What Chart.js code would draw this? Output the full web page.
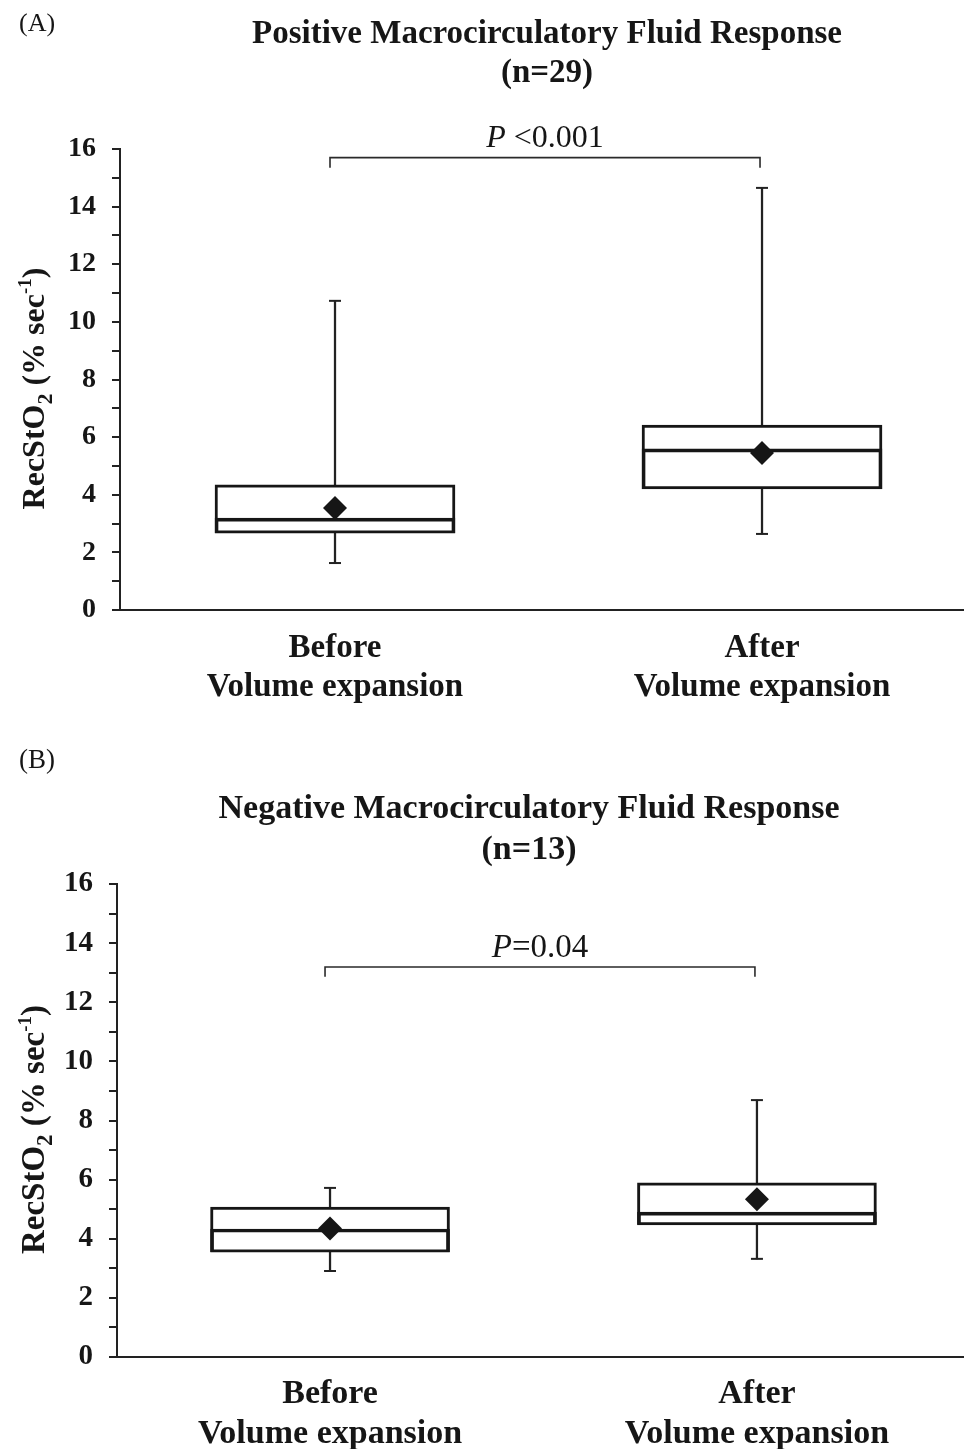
<!DOCTYPE html>
<html>
<head>
<meta charset="utf-8">
<script src="https://cdn.jsdelivr.net/npm/chart.js@4.4.1/dist/chart.umd.min.js"></script>
<style>
  html, body { margin: 0; padding: 0; background: #fff; overflow: hidden; }
  #wrap { position: relative; width: 964px; height: 1449px; }
  canvas { position: absolute; left: 0; }
  #chartA { top: 0; }
  #chartB { top: 720px; }
</style>
</head>
<body>
<div id="wrap">
  <canvas id="chartA" width="964" height="720"></canvas>
  <canvas id="chartB" width="964" height="729"></canvas>
</div>
<script>
// categories and tick labels
const categories = [['Before', 'Volume expansion'], ['After', 'Volume expansion']];
const yTickLabels = [0, 2, 4, 6, 8, 10, 12, 14, 16];

// (A) positive response, n=29
const titleA = ['Positive Macrocirculatory Fluid Response', '(n=29)'];
const minA    = [1.63, 2.64];
const q1A     = [2.67, 4.20];
const medianA = [3.19, 5.59];
const q3A     = [4.34, 6.42];
const maxA    = [10.73, 14.65];
const meanA   = [3.54, 5.45];
const pTextA  = ['P', ' <0.001'];

// (B) negative response, n=13
const titleB = ['Negative Macrocirculatory Fluid Response', '(n=13)'];
const minB    = [2.91, 3.32];
const q1B     = [3.55, 4.47];
const medianB = [4.33, 4.90];
const q3B     = [5.07, 5.89];
const maxB    = [5.72, 8.69];
const meanB   = [4.35, 5.34];
const pTextB  = ['P', '=0.04'];

const SERIF = '"Liberation Serif", "Times New Roman", serif';
const INK = '#161616';

// layout of each panel (pixels inside its own canvas)
const panelA = {
  id: 'chartA', letter: '(A)', letterY: 31, k: 1,
  title: titleA, titleX: 547, titleY: [43, 82],
  top: 149, bottom: 610, height: 720, axisLeft: 120,
  xMin: 0.4965, xMax: 2.473, boxWidth: 240, labelPad: 19,
  bracket: [15.7, 15.35], pText: pTextA, pGap: 11,
  min: minA, q1: q1A, median: medianA, q3: q3A, max: maxA, mean: meanA
};
const panelB = {
  id: 'chartB', letter: '(B)', letterY: 48, k: 1.025,
  title: titleB, titleX: 529, titleY: [98, 139],
  top: 164, bottom: 637, height: 729, axisLeft: 117,
  xMin: 0.501, xMax: 2.485, boxWidth: 239, labelPad: 17,
  bracket: [13.19, 12.86], pText: pTextB, pGap: 10,
  min: minB, q1: q1B, median: medianB, q3: q3B, max: maxB, mean: meanB
};

// texts that are not part of the axes: panel letter, title, p value bracket, y title
function annotations(p) {
  const fs = n => Math.round(n * p.k) + 'px ';
  return {
    id: 'annot' + p.id,
    afterDraw(chart) {
      const ctx = chart.ctx;
      const xs = chart.scales.x, ys = chart.scales.y;
      ctx.save();
      ctx.fillStyle = INK;
      ctx.textBaseline = 'alphabetic';

      ctx.font = fs(26) + SERIF;
      ctx.textAlign = 'left';
      ctx.fillText(p.letter, 19, p.letterY);

      ctx.font = 'bold ' + fs(33) + SERIF;
      ctx.textAlign = 'center';
      p.title.forEach((t, i) => ctx.fillText(t, p.titleX, p.titleY[i]));

      // bracket between the two groups
      const x1 = xs.getPixelForValue(1) - 5, x2 = xs.getPixelForValue(2) - 2;
      const yl = ys.getPixelForValue(p.bracket[0]);
      const yd = ys.getPixelForValue(p.bracket[1]);
      ctx.strokeStyle = '#2a2a2a';
      ctx.lineWidth = 1.6;
      ctx.beginPath();
      ctx.moveTo(x1, yd); ctx.lineTo(x1, yl); ctx.lineTo(x2, yl); ctx.lineTo(x2, yd);
      ctx.stroke();

      // P value, italic P
      const fItal = 'italic ' + fs(32) + SERIF, fReg = fs(32) + SERIF;
      ctx.font = fItal; const w1 = ctx.measureText(p.pText[0]).width;
      ctx.font = fReg;  const w2 = ctx.measureText(p.pText[1]).width;
      let px = (x1 + x2) / 2 - (w1 + w2) / 2;
      ctx.textAlign = 'left';
      ctx.font = fItal; ctx.fillText(p.pText[0], px, yl - p.pGap);
      ctx.font = fReg;  ctx.fillText(p.pText[1], px + w1, yl - p.pGap);

      // y axis title with sub/superscript
      const parts = [
        ['RecStO', 'bold ' + fs(32), 0],
        ['2', 'bold ' + fs(22), 8],
        [' (% sec', 'bold ' + fs(32), 0],
        ['-1', 'bold ' + fs(19), -13],
        [')', 'bold ' + fs(32), 0]
      ];
      let total = 0;
      parts.forEach(s => { ctx.font = s[1] + SERIF; total += ctx.measureText(s[0]).width; });
      ctx.translate(33, (chart.chartArea.top + chart.chartArea.bottom) / 2 + 9);
      ctx.rotate(-Math.PI / 2);
      let tx = -total / 2;
      parts.forEach(s => {
        ctx.font = s[1] + SERIF;
        ctx.fillText(s[0], tx, 11 + s[2]);
        tx += ctx.measureText(s[0]).width;
      });
      ctx.restore();
    }
  };
}

function drawPanel(p) {
  const pts = arr => arr.map((v, i) => ({ x: i + 1, y: v }));
  const ranges = (lo, hi) => lo.map((v, i) => ({ x: i + 1, y: [v, hi[i]] }));

  new Chart(document.getElementById(p.id), {
    type: 'bar',
    data: {
      datasets: [
        { // means
          type: 'line', data: pts(p.mean), showLine: false,
          pointStyle: 'rectRot', pointRadius: 12, pointHoverRadius: 12,
          pointBackgroundColor: INK, pointBorderWidth: 0
        },
        { // median line = top edge of q1..median bar
          data: ranges(p.q1, p.median), grouped: false, barThickness: p.boxWidth,
          backgroundColor: 'rgba(255,255,255,0)', borderColor: INK,
          borderWidth: 3, borderSkipped: 'bottom'
        },
        { // box q1..q3
          data: ranges(p.q1, p.q3), grouped: false, barThickness: p.boxWidth,
          backgroundColor: '#ffffff', borderColor: INK,
          borderWidth: 3, borderSkipped: false
        },
        { // whisker stem
          data: ranges(p.min, p.max), grouped: false, barThickness: 1.6,
          backgroundColor: '#222', borderWidth: 0
        },
        { // whisker caps
          type: 'line', data: pts(p.min).concat(pts(p.max)), showLine: false,
          pointStyle: 'line', pointRadius: 6, pointHoverRadius: 6,
          pointBorderColor: '#222', pointBorderWidth: 2
        }
      ]
    },
    options: {
      responsive: false,
      animation: false,
      devicePixelRatio: 1,
      layout: { autoPadding: false, padding: { top: p.top, left: 0, right: 0, bottom: 0 } },
      plugins: { legend: { display: false }, tooltip: { enabled: false } },
      scales: {
        x: {
          type: 'linear', min: p.xMin, max: p.xMax, offset: false,
          afterBuildTicks: s => { s.ticks = categories.map((c, i) => ({ value: i + 1 })); },
          afterFit: s => { s.height = p.height - p.bottom; },
          grid: { display: false, drawTicks: false, offset: false },
          border: { display: true, color: '#222', width: 2 },
          ticks: {
            autoSkip: false, maxRotation: 0, padding: p.labelPad,
            color: INK, font: { family: SERIF, size: Math.round(33 * p.k), weight: 'bold', lineHeight: 1.18 },
            callback: (v, i) => categories[i]
          }
        },
        y: {
          min: 0, max: 16,
          afterFit: s => { s.width = p.axisLeft; },
          grid: {
            drawOnChartArea: false, drawTicks: true, tickLength: 8,
            tickWidth: 2, tickColor: '#222', color: '#222', lineWidth: 2
          },
          border: { display: true, color: '#222', width: 2 },
          ticks: {
            stepSize: 1, autoSkip: false, padding: 16, color: INK,
            font: { family: SERIF, size: Math.round(28 * p.k), weight: 'bold' },
            callback: v => yTickLabels.includes(v) ? String(v) : ''
          }
        }
      }
    },
    plugins: [annotations(p)]
  });
}

drawPanel(panelA);
drawPanel(panelB);
</script>
</body>
</html>
